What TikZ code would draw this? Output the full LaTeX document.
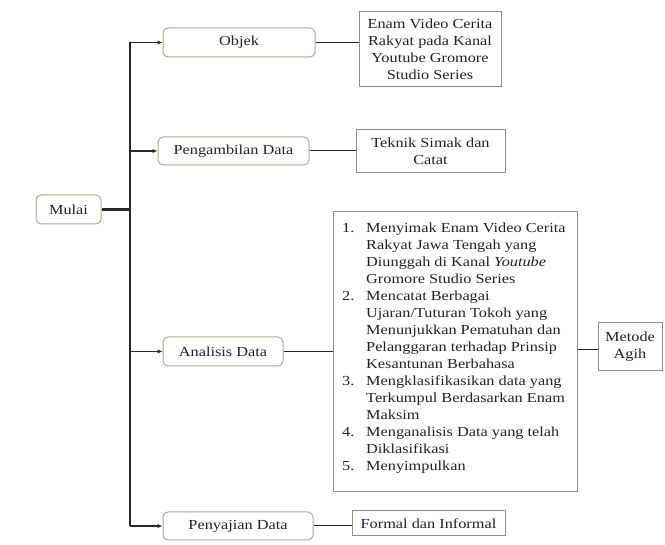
\documentclass[tikz,border=0pt]{standalone}
\usepackage{fontspec}
\setmainfont[FakeStretch=1.18]{Liberation Serif}
\usetikzlibrary{arrows.meta}
\definecolor{rbord}{RGB}{160,178,135}
\definecolor{sbord}{RGB}{135,150,118}
\definecolor{lin}{RGB}{40,40,40}
\definecolor{txt}{RGB}{35,35,35}
\tikzset{
  rbox/.style={draw=rbord, line width=1pt, rounded corners=5pt, fill=white, inner sep=0pt, align=center, text=txt, font=\fontsize{13.8}{17}\selectfont},
  sbox/.style={draw=sbord, line width=1pt, fill=white, inner sep=0pt, align=center, text=txt, font=\fontsize{13.8}{17}\selectfont},
  conn/.style={draw=lin, line width=1pt},
  arr/.style={draw=lin, line width=1.3pt, -{Latex[length=5pt,width=4.5pt]}},
}
\begin{document}
\begin{tikzpicture}[x=1pt,y=-1pt]
\useasboundingbox (0,0) rectangle (665,545);
% left column
\node[rbox, minimum width=65pt, minimum height=29pt] (mulai) at (68.5,209.5) {Mulai};
\node[rbox, minimum width=152pt, minimum height=29pt] (objek) at (239,42.5) {Objek};
\node[rbox, minimum width=151pt, minimum height=28pt] (ambil) at (233.5,151) {Pengambilan Data};
\node[rbox, minimum width=120pt, minimum height=29pt] (anal) at (223,351.5) {Analisis Data};
\node[rbox, minimum width=150pt, minimum height=28pt] (saji) at (238,526) {Penyajian Data};
% right column
\node[sbox, minimum width=142pt, minimum height=75pt] (enam) at (430,49.5) {Enam Video Cerita\\Rakyat pada Kanal\\Youtube Gromore\\Studio Series};
\node[sbox, minimum width=149pt, minimum height=43pt] (teknik) at (430.5,151.5) {Teknik Simak dan\\Catat};
\node[sbox, minimum width=244pt, minimum height=280pt] (big) at (455,352) {};
\node[anchor=north west, inner sep=0pt, text=txt, font=\fontsize{13.8}{17}\selectfont] (bigtext) at (342,220) {%
\renewcommand{\arraystretch}{1}%
\begin{tabular}{@{}p{24pt}@{}l@{}}
1. & Menyimak Enam Video Cerita\\
   & Rakyat Jawa Tengah yang\\
   & Diunggah di Kanal \textit{Youtube}\\
   & Gromore Studio Series\\
2. & Mencatat Berbagai\\
   & Ujaran/Tuturan Tokoh yang\\
   & Menunjukkan Pematuhan dan\\
   & Pelanggaran terhadap Prinsip\\
   & Kesantunan Berbahasa\\
3. & Mengklasifikasikan data yang\\
   & Terkumpul Berdasarkan Enam\\
   & Maksim\\
4. & Menganalisis Data yang telah\\
   & Diklasifikasi\\
5. & Menyimpulkan
\end{tabular}};
\node[sbox, minimum width=64pt, minimum height=48pt] (metode) at (630,347) {Metode\\Agih};
\node[sbox, minimum width=153pt, minimum height=25pt] (formal) at (428.5,523.5) {Formal dan Informal};
% trunk
\coordinate (j1) at (130,42.5);
\coordinate (j2) at (130,151);
\coordinate (j3) at (130,351.5);
\coordinate (j4) at (130,526);
\draw[draw=lin, line width=1.5pt] (j1) -- (j4);
\draw[draw=lin, line width=2.5pt] (mulai.east) -- (mulai.east -| j1);
\draw[arr] (j1) -- (objek.west);
\draw[arr] (j2) -- (ambil.west);
\draw[arr] (j3) -- (anal.west);
\draw[arr] (j4) -- (saji.west);
% right connectors
\draw[conn] (objek.east) -- (objek.east -| enam.west);
\draw[conn] (ambil.east) -- (ambil.east -| teknik.west);
\draw[conn] (anal.east) -- (anal.east -| big.west);
\draw[conn] ([yshift=-3pt]metode.west -| big.east) -- ([yshift=-3pt]metode.west);
\draw[conn] (saji.east) -- (saji.east -| formal.west);
\end{tikzpicture}
\end{document}
